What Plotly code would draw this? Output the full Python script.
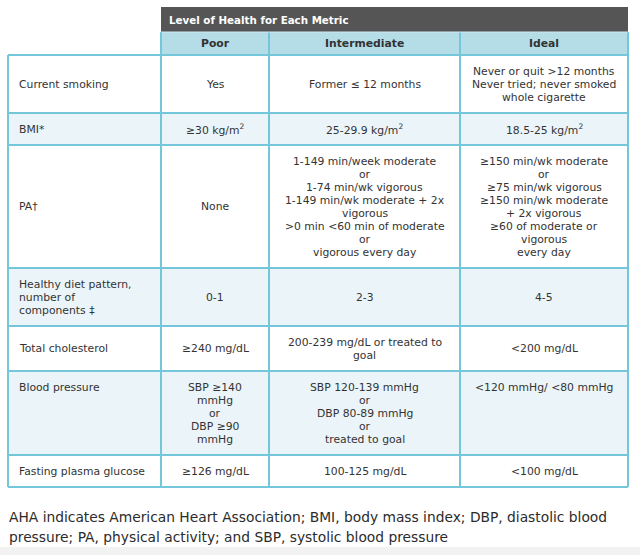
import plotly.graph_objects as go

# ---- data ----
title_text = "Level of Health for Each Metric"
levels = ["Poor", "Intermediate", "Ideal"]
metrics = [
    "Current smoking",
    "BMI*",
    "PA†",
    "Healthy diet pattern,<br>number of<br>components ‡",
    "Total cholesterol",
    "Blood pressure",
    "Fasting plasma glucose",
]
poor = [
    "Yes",
    "≥30 kg/m<sup>2</sup>",
    "None",
    "0-1",
    "≥240 mg/dL",
    "SBP ≥140<br>mmHg<br>or<br>DBP ≥90<br>mmHg",
    "≥126 mg/dL",
]
intermediate = [
    "Former ≤ 12 months",
    "25-29.9 kg/m<sup>2</sup>",
    "1-149 min/week moderate<br>or<br>1-74 min/wk vigorous<br>1-149 min/wk moderate + 2x<br>vigorous<br>>0 min <60 min of moderate<br>or<br>vigorous every day",
    "2-3",
    "200-239 mg/dL or treated to<br>goal",
    "SBP 120-139 mmHg<br>or<br>DBP 80-89 mmHg<br>or<br>treated to goal",
    "100-125 mg/dL",
]
ideal = [
    "Never or quit >12 months<br>Never tried; never smoked<br>whole cigarette",
    "18.5-25 kg/m<sup>2</sup>",
    "≥150 min/wk moderate<br>or<br>≥75 min/wk vigorous<br>≥150 min/wk moderate<br>+ 2x vigorous<br>≥60 of moderate or<br>vigorous<br>every day",
    "4-5",
    "<200 mg/dL",
    "<120 mmHg/ <80 mmHg",
    "<100 mg/dL",
]
footnote = [
    "AHA indicates American Heart Association; BMI, body mass index; DBP, diastolic blood",
    "pressure; PA, physical activity; and SBP, systolic blood pressure",
]

# ---- layout / style ----
col_edges = [8, 161, 269, 460, 628]
row_edges = [55, 113, 145, 268, 326, 371, 455, 487]
title_band = (7, 32)
header_band = (32, 55)
top_aligned = {(5, 0), (5, 3)}
LINE_H = 13

DARK = "#555555"
HEAD = "#b5dde7"
LIGHT = "#ebf5f9"
BORDER = "#74c7da"
TEXT = "#333333"
FONT = "DejaVu Sans"
FS = 10.8

fig = go.Figure()
shapes = []
ann = []

# title band
shapes.append(dict(type="rect", x0=col_edges[1], x1=col_edges[-1], y0=title_band[0], y1=title_band[1],
                   fillcolor=DARK, line=dict(width=0), layer="below"))
ann.append(dict(x=col_edges[1] + 6, y=sum(title_band) / 2, text="<b>" + title_text + "</b>",
                xanchor="left", yanchor="middle", showarrow=False,
                font=dict(family=FONT, size=10.3, color="white")))
# header band
shapes.append(dict(type="rect", x0=col_edges[1], x1=col_edges[-1], y0=header_band[0], y1=header_band[1],
                   fillcolor=HEAD, line=dict(width=0), layer="below"))
for i, lv in enumerate(levels):
    xc = (col_edges[i + 1] + col_edges[i + 2]) / 2
    ann.append(dict(x=xc, y=sum(header_band) / 2, text="<b>" + lv + "</b>", xanchor="center",
                    yanchor="middle", showarrow=False, font=dict(family=FONT, size=10.8, color=TEXT)))

# body fills
for r in range(len(metrics)):
    fill = "white" if r % 2 == 0 else LIGHT
    shapes.append(dict(type="rect", x0=col_edges[0], x1=col_edges[-1], y0=row_edges[r], y1=row_edges[r + 1],
                       fillcolor=fill, line=dict(width=0), layer="below"))

# grid lines
for y in row_edges:
    shapes.append(dict(type="line", x0=col_edges[0], x1=col_edges[-1], y0=y, y1=y,
                       line=dict(color=BORDER, width=2)))
for i, x in enumerate(col_edges):
    y0 = row_edges[0] if i == 0 else header_band[0]
    shapes.append(dict(type="line", x0=x, x1=x, y0=y0, y1=row_edges[-1],
                       line=dict(color=BORDER, width=2)))
shapes.append(dict(type="line", x0=col_edges[1], x1=col_edges[-1], y0=header_band[0], y1=header_band[0],
                   line=dict(color="#cfe9ef", width=1)))

# cell texts (each line placed separately for tight line spacing)
columns = [metrics, poor, intermediate, ideal]
for r in range(len(metrics)):
    for c, col in enumerate(columns):
        lines = col[r].split("<br>")
        n = len(lines)
        if (r, c) in top_aligned:
            y_first = row_edges[r] + 16
        else:
            y_first = (row_edges[r] + row_edges[r + 1]) / 2 - (n - 1) * LINE_H / 2
        if c == 0:
            x, xa = col_edges[0] + 9, "left"
        else:
            x, xa = (col_edges[c] + col_edges[c + 1]) / 2, "center"
        for k, ln in enumerate(lines):
            ann.append(dict(x=x, y=y_first + k * LINE_H, text=ln, xanchor=xa, yanchor="middle",
                            showarrow=False, font=dict(family=FONT, size=FS, color=TEXT)))

# footnote
for k, line in enumerate(footnote):
    ann.append(dict(x=7, y=517 + 20 * k, text=line, xanchor="left", yanchor="middle", showarrow=False,
                    font=dict(family=FONT, size=13.8, color="#2b2b2b")))

# faint grey strip at the very bottom
shapes.append(dict(type="rect", x0=0, x1=640, y0=547, y1=555, fillcolor="#f2f2f2",
                   line=dict(width=0), layer="below"))

fig.update_layout(
    width=640, height=555, autosize=False,
    margin=dict(l=0, r=0, t=0, b=0),
    paper_bgcolor="white", plot_bgcolor="white",
    xaxis=dict(range=[0, 640], visible=False, fixedrange=True),
    yaxis=dict(range=[555, 0], visible=False, fixedrange=True),
    shapes=shapes, annotations=ann, showlegend=False,
)
fig.write_html(
    "out.html",
    config={"displayModeBar": False},
    post_script="document.body.style.margin='0';document.body.style.overflow='hidden';",
)
